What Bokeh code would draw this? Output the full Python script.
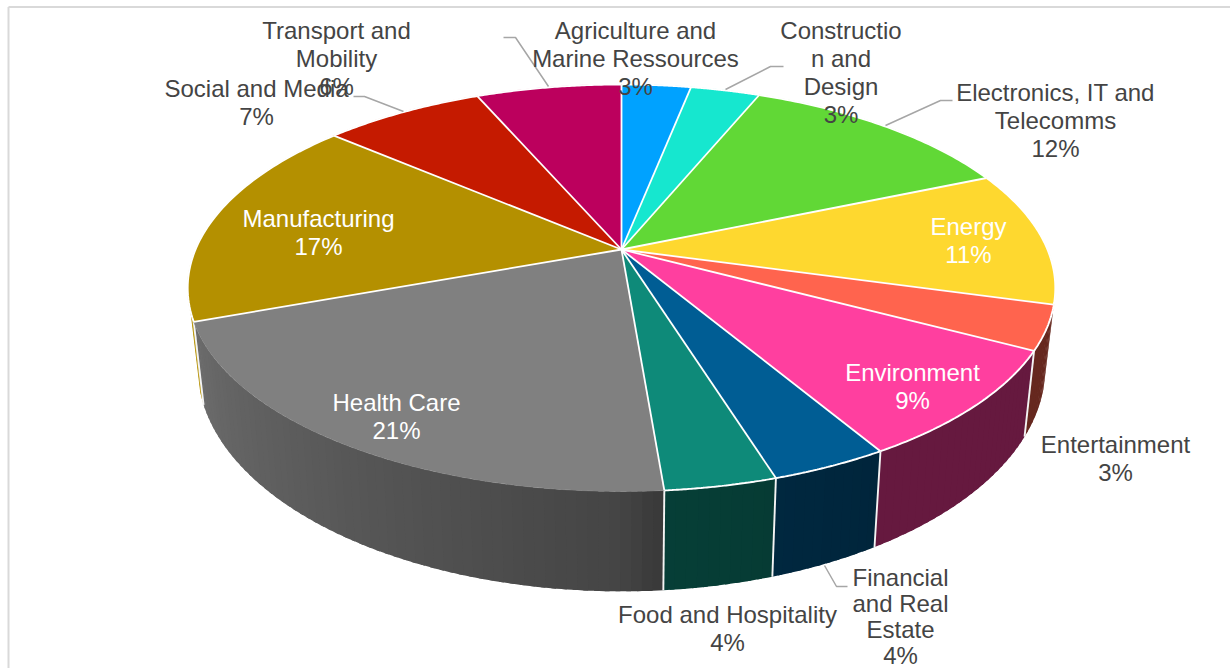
import numpy as np
from bokeh.plotting import figure
from bokeh.models import Range1d
from bokeh.core.properties import value
from bokeh.embed import file_html
from bokeh.resources import INLINE

# ---------- data ----------
sectors = ["Agriculture and Marine Ressources", "Construction and Design",
           "Electronics, IT and Telecomms", "Energy", "Entertainment", "Environment",
           "Financial and Real Estate", "Food and Hospitality", "Health Care",
           "Manufacturing", "Social and Media", "Transport and Mobility"]
shares = [3.1, 3.1, 12.4, 10.7, 3.5, 8.7, 3.7, 3.5, 20.7, 16.9, 7.2, 6.5]
percent_labels = [3, 3, 12, 11, 3, 9, 4, 4, 21, 17, 7, 6]
colors = ["#00a2ff", "#16e7cf", "#61d836", "#fed82f", "#ff644e", "#ff3f9f",
          "#005d94", "#0e8a79", "#808080", "#b49000", "#c51a00", "#bc005d"]
label_lines = [["Agriculture and", "Marine Ressources"], ["Constructio", "n and", "Design"],
               ["Electronics, IT and", "Telecomms"], ["Energy"], ["Entertainment"], ["Environment"],
               ["Financial", "and Real", "Estate"], ["Food and Hospitality"], ["Health Care"],
               ["Manufacturing"], ["Social and Media"], ["Transport and", "Mobility"]]

# ---------- layout (picture pixels) ----------
label_anchor = [(635, 30), (840.5, 30), (1055, 92), (968, 226), (1115, 444), (912, 372),
                (900, 577), (727, 614), (396, 402), (318, 218), (256, 88), (336, 30)]
label_step = [28, 28, 28, 28, 28, 28, 26, 28, 28, 28, 28, 28]
label_color = ["#444444", "#444444", "#444444", "#ffffff", "#444444", "#ffffff",
               "#444444", "#444444", "#ffffff", "#ffffff", "#444444", "#444444"]
leader_paths = [[(783, 66), (770, 66), (725, 89)],
                [(952, 100), (940, 100), (885, 125)],
                [(847, 586), (836, 586), (824, 565)],
                [(353, 96), (364, 96), (403, 111)],
                [(503, 37), (515, 37), (548, 86)]]
CX, CY, A, B, K = 621.0, 249.0, 426.0, 196.2, 0.189


def top(theta):
    x, z = np.sin(theta), np.cos(theta)
    d = 1 + K * z
    return CX + A * x / d, CY - B * z / d


def bottom(theta):
    x, y = top(theta)
    return CX + (x - CX) * 0.977, 50.8 + 1.10 * y


def shade(hex_color, f):
    r, g, b = (int(hex_color[i:i + 2], 16) for i in (1, 3, 5))
    return "#%02x%02x%02x" % (int(r * f), int(g * f), int(b * f))


edges = np.concatenate([[0], np.cumsum(shares)])
edges = edges / edges[-1] * 100
to_theta = lambda pct: np.asarray(pct) * 2 * np.pi / 100

p = figure(width=1230, height=668, x_range=Range1d(0, 1230), y_range=Range1d(668, 0),
           toolbar_location=None, output_backend="svg", tools="", min_border=0,
           outline_line_color=None, background_fill_color="white")
p.axis.visible = False
p.grid.visible = False

# chart frame
p.line([8, 8], [668, 6.5], line_color="#d9d9d9", line_width=2)
p.line([8, 1230], [6.5, 6.5], line_color="#d9d9d9", line_width=2)

# outer walls (front half only), strip by strip for the shading
for i in range(4, 10):
    lo, hi = edges[i], edges[i + 1]
    if i == 9:
        hi = lo + 0.9
    steps = np.linspace(lo, hi, max(3, int((hi - lo) * 3) + 1))
    fx, fy, fc = [], [], []
    for a, b in zip(steps[:-1], steps[1:]):
        th = to_theta(np.linspace(a, min(b + 0.15, hi), 4))
        tx, ty = top(th)
        bx, by = bottom(th)
        fx.append(list(tx) + list(bx[::-1]))
        fy.append(list(ty) + list(by[::-1]))
        f = np.interp((a + b) / 2, [29, 41, 49, 50, 69.4, 69.5], [.40, .40, .46, .54, .85, 1.0])
        fc.append(shade(colors[i], f))
    p.patches(fx, fy, fill_color=fc, line_color=None)

# white seams on the walls
for pct in edges[5:10]:
    th = to_theta(pct)
    tx, ty = top(th)
    bx, by = bottom(th)
    p.line([tx, bx], [ty, by], line_color="#f4f4f4", line_width=1.9)

# top faces
xs, ys = [], []
for i in range(12):
    th = to_theta(np.linspace(edges[i], edges[i + 1], 60))
    tx, ty = top(th)
    xs.append([CX] + list(tx))
    ys.append([CY] + list(ty))
p.patches(xs, ys, fill_color=colors, line_color=colors, line_width=0.5)

# white rim (not on the Health Care slice) and white radial separators
for i in range(12):
    if sectors[i] == "Health Care":
        continue
    th = to_theta(np.linspace(edges[i], edges[i + 1], 60))
    tx, ty = top(th)
    p.line(tx, ty, line_color="white", line_width=1.9)
for pct in edges[:-1]:
    tx, ty = top(to_theta(pct))
    p.line([CX, tx], [CY, ty], line_color="white", line_width=1.8)

# leader lines
for path in leader_paths:
    p.line([q[0] for q in path], [q[1] for q in path], line_color="#a6a6a6", line_width=1.5)

# labels
tx, ty, tt, tc = [], [], [], []
for lines, pct, (ax, ay), step, col in zip(label_lines, percent_labels, label_anchor, label_step, label_color):
    for n, s in enumerate(lines + [f"{pct}%"]):
        tx.append(ax)
        ty.append(ay + n * step)
        tt.append(s)
        tc.append(col)
p.text(tx, ty, text=tt, text_color=tc, text_font=value("Liberation Sans"), text_font_size="24px",
       text_align="center", text_baseline="middle")

open("out.html", "w").write(file_html(p, INLINE))
